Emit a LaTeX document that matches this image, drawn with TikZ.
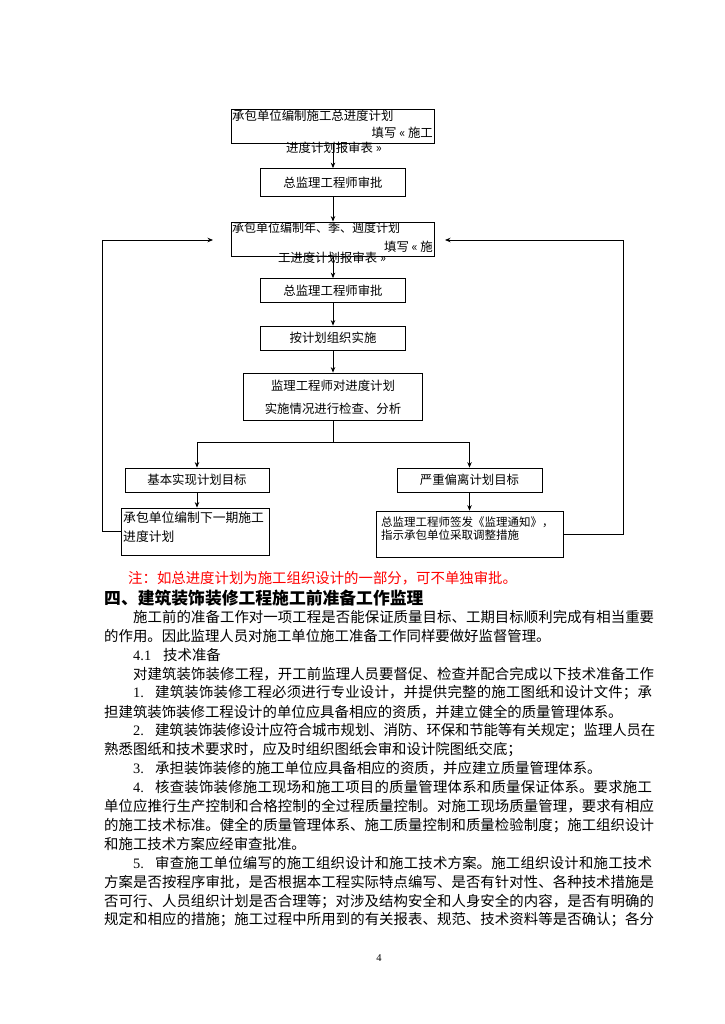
\documentclass[tikz,border=0pt]{standalone}
\usepackage{fontspec}
\setmainfont{Noto Sans CJK SC}
\newfontfamily\serifnum{Liberation Serif}
\usetikzlibrary{arrows.meta}
\XeTeXlinebreaklocale "zh"
\XeTeXlinebreakskip=0pt plus 2pt minus 0.3pt
\tikzset{
  fcbox/.style={draw=black, line width=0.8pt, inner sep=0pt},
  fctext/.style={font=\fontsize{12.4}{14}\selectfont, inner sep=0pt},
  arr/.style={-{Stealth[length=5.5pt,width=4.5pt]}, line width=0.8pt},
  link/.style={line width=0.8pt},
  bodytxt/.style={anchor=west, inner sep=0pt, font=\fontsize{14.4}{17}\selectfont},
}
\newcommand\myind{\hspace*{29pt}}
\newcommand\mynum[2][22pt]{\makebox[#1][l]{\serifnum #2}}
\newcommand\jline[3]{\node[bodytxt, text width=551pt] (#1) at (104,#2) {\noindent\parfillskip=0pt\relax #3\par};}
\newcommand\rline[3]{\node[bodytxt, text width=551pt] (#1) at (104,#2) {\noindent #3\par};}
\begin{document}
\begin{tikzpicture}[x=1pt,y=-1pt]
\path[use as bounding box, fill=white] (0,0) rectangle (724,1024);

% ---------- flowchart boxes ----------
\node[fcbox, minimum width=203pt, minimum height=34pt] (b1) at (333,126) {};
\node[fctext, anchor=west] (b1a) at (232,116) {承包单位编制施工总进度计划};
\node[fctext, anchor=east] (b1b) at (433,133) {填写 « 施工};
\node[fctext] (b1c) at (334,148) {进度计划报审表 »};

\node[fcbox, fctext, minimum width=145pt, minimum height=28pt] (b2) at (333,182.5) {总监理工程师审批};

\node[fcbox, minimum width=203pt, minimum height=34pt] (b3) at (333,239) {};
\node[fctext, anchor=west, font=\fontsize{12}{14}\selectfont] (b3a) at (232,228) {承包单位编制年、季、週度计划};
\node[fctext, anchor=east] (b3b) at (433,247) {填写 « 施};
\node[fctext] (b3c) at (332,258) {工进度计划报审表 »};

\node[fcbox, fctext, minimum width=145pt, minimum height=24pt] (b4) at (333,290.5) {总监理工程师审批};
\node[fcbox, fctext, minimum width=145pt, minimum height=24pt] (b5) at (333,338) {按计划组织实施};

\node[fcbox, minimum width=179pt, minimum height=47pt] (b6) at (333,396.5) {};
\node[fctext] (b6a) at (333,386) {监理工程师对进度计划};
\node[fctext] (b6b) at (333,409) {实施情况进行检查、分析};

\node[fcbox, fctext, minimum width=144pt, minimum height=24pt] (b7) at (197,480) {基本实现计划目标};
\node[fcbox, fctext, minimum width=145pt, minimum height=24pt] (b8) at (469.5,480) {严重偏离计划目标};

\node[fcbox, minimum width=148pt, minimum height=47pt] (b9) at (195,531.5) {};
\node[fctext, anchor=west, font=\fontsize{12.8}{14}\selectfont] (b9a) at (123,518) {承包单位编制下一期施工};
\node[fctext, anchor=west, font=\fontsize{12.8}{14}\selectfont] (b9b) at (123,537) {进度计划};

\node[fcbox, minimum width=187pt, minimum height=46pt] (b10) at (469.5,534) {};
\node[fctext, anchor=west, font=\fontsize{11.5}{13}\selectfont] (b10a) at (381,522.5) {总监理工程师签发《监理通知》，};
\node[fctext, anchor=west, font=\fontsize{11.5}{13}\selectfont] (b10b) at (381,535) {指示承包单位采取调整措施};

% ---------- connectors ----------
\draw[arr] (b1) -- (b2);
\draw[arr] (b2) -- (b3);
\draw[arr] (b3) -- (b4);
\draw[arr] (b4) -- (b5);
\draw[arr] (b5) -- (b6);
\coordinate (br) at (333,442);
\draw[link] (b6) -- (br);
\draw[arr] (br) -| (b7.north);
\draw[arr] (br) -| (b8.north);
\draw[arr] (b7.south) -- (b7.south |- b9.north);
\draw[arr] (b8) -- (b10);
\coordinate (tipL) at (213,240);
\coordinate (tipR) at (445,240);
\draw[arr] (b9.west) -- ++(-18,0) |- (tipL);
\draw[arr] (b10.east) -- ++(60,0) |- (tipR);

% ---------- note and heading ----------
\node[bodytxt, text=red] (note) at (128,578) {注：如总进度计划为施工组织设计的一部分，可不单独审批。};
\node[anchor=west, inner sep=0pt, font=\fontsize{16.8}{19}\selectfont\bfseries] (head) at (104,598) {四、建筑装饰装修工程施工前准备工作监理};

% ---------- body text ----------
\jline{l0}{617.0}{\myind 施工前的准备工作对一项工程是否能保证质量目标、工期目标顺利完成有相当重要}
\rline{l1}{635.9}{的作用。因此监理人员对施工单位施工准备工作同样要做好监督管理。}
\rline{l2}{654.9}{\myind\mynum[30pt]{4.1}技术准备}
\jline{l3}{673.8}{\myind 对建筑装饰装修工程，开工前监理人员要督促、检查并配合完成以下技术准备工作}
\jline{l4}{692.8}{\myind\mynum{1.}建筑装饰装修工程必须进行专业设计，并提供完整的施工图纸和设计文件；承}
\rline{l5}{711.7}{担建筑装饰装修工程设计的单位应具备相应的资质，并建立健全的质量管理体系。}
\jline{l6}{730.6}{\myind\mynum{2.}建筑装饰装修设计应符合城市规划、消防、环保和节能等有关规定；监理人员在}
\rline{l7}{749.6}{熟悉图纸和技术要求时，应及时组织图纸会审和设计院图纸交底；}
\rline{l8}{768.5}{\myind\mynum{3.}承担装饰装修的施工单位应具备相应的资质，并应建立质量管理体系。}
\jline{l9}{787.5}{\myind\mynum{4.}核查装饰装修施工现场和施工项目的质量管理体系和质量保证体系。要求施工}
\jline{l10}{806.4}{单位应推行生产控制和合格控制的全过程质量控制。对施工现场质量管理，要求有相应}
\jline{l11}{825.3}{的施工技术标准。健全的质量管理体系、施工质量控制和质量检验制度；施工组织设计}
\rline{l12}{844.3}{和施工技术方案应经审查批准。}
\jline{l13}{863.2}{\myind\mynum{5.}审查施工单位编写的施工组织设计和施工技术方案。施工组织设计和施工技术}
\jline{l14}{882.2}{方案是否按程序审批，是否根据本工程实际特点编写、是否有针对性、各种技术措施是}
\jline{l15}{901.1}{否可行、人员组织计划是否合理等；对涉及结构安全和人身安全的内容，是否有明确的}
\jline{l16}{920.0}{规定和相应的措施；施工过程中所用到的有关报表、规范、技术资料等是否确认；各分}

\node[inner sep=0pt, font=\serifnum\fontsize{10.5}{12}\selectfont] (pg) at (379,958) {4};
\end{tikzpicture}
\end{document}
